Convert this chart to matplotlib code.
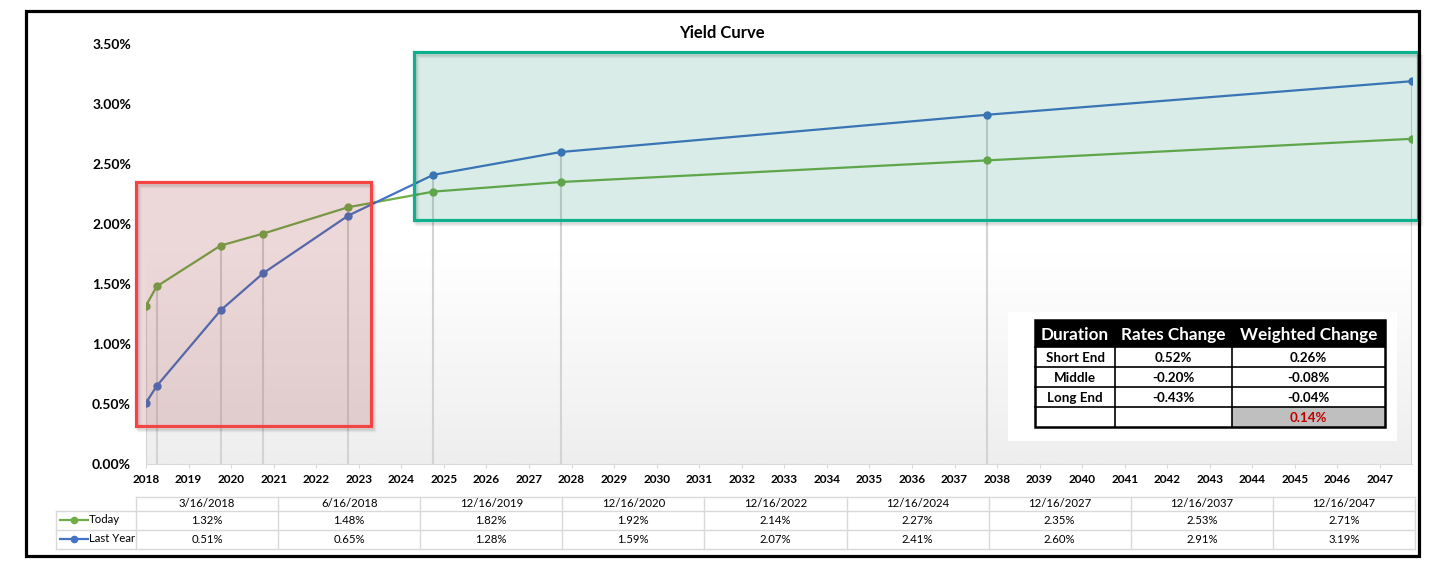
import numpy as np
import pandas as pd
import matplotlib
matplotlib.use('Agg')
import matplotlib.pyplot as plt
import matplotlib.dates as mdates
import matplotlib.transforms as mtransforms
from matplotlib.patches import Rectangle
from matplotlib.colors import LinearSegmentedColormap

# Data
dates = ['3/16/2018', '6/16/2018', '12/16/2019', '12/16/2020', '12/16/2022',
         '12/16/2024', '12/16/2027', '12/16/2037', '12/16/2047']
today = [1.32, 1.48, 1.82, 1.92, 2.14, 2.27, 2.35, 2.53, 2.71]
last_year = [0.51, 0.65, 1.28, 1.59, 2.07, 2.41, 2.60, 2.91, 3.19]
y_ticks = [0.0, 0.5, 1.0, 1.5, 2.0, 2.5, 3.0, 3.5]

summary_header = ['Duration', 'Rates Change', 'Weighted Change']
summary_rows = [['Short End', '0.52%', '0.26%'],
                ['Middle', '-0.20%', '-0.08%'],
                ['Long End', '-0.43%', '-0.04%'],
                ['', '', '0.14%']]

GREEN = '#70ad47'
BLUE = '#4472c4'
FONT = 'Lato'

W, H = 1433, 572


def fig_box(x0, y0, x1, y1):
    # pixel box (top-left origin) -> figure fraction rect
    return [x0 / W, 1 - y1 / H, (x1 - x0) / W, (y1 - y0) / H]


def main():
    plt.rcParams['font.family'] = [FONT, 'DejaVu Sans']
    x = mdates.date2num(pd.to_datetime(dates, format='%m/%d/%Y'))
    today_v = np.array(today) / 100
    last_v = np.array(last_year) / 100

    fig = plt.figure(figsize=(W / 100, H / 100), dpi=100)

    ax = fig.add_axes(fig_box(146, 44, 1412, 464))

    # plot area gradient (white at top, light grey at bottom)
    cmap = LinearSegmentedColormap.from_list('bg', ['#ffffff', '#ffffff', '#eeeeee'])
    grad = np.linspace(0, 1, 256).reshape(-1, 1)
    ax.imshow(grad, extent=[x[0], x[-1], 0, 0.035], aspect='auto', cmap=cmap,
              origin='upper', zorder=0)
    ax.set_xlim(x[0], x[-1])
    ax.set_ylim(0, 0.035)

    # drop lines
    ax.vlines(x, 0, np.maximum(today_v, last_v), color='#d3d3d3', lw=1.5, zorder=1)

    ax.plot(x, today_v, color=GREEN, lw=1.6, marker='o', ms=5, zorder=2, label='Today')
    ax.plot(x, last_v, color=BLUE, lw=1.6, marker='o', ms=5, zorder=2, label='Last Year')

    # highlight boxes with a soft shadow
    shadow_trs = [mtransforms.offset_copy(ax.transData, fig=fig, x=d, y=-d - 1, units='dots')
                  for d in (1, 2, 3)]

    def box(d0, d1, y0, y1, edge, face, alpha):
        xa = mdates.date2num(pd.Timestamp(d0))
        xb = mdates.date2num(pd.Timestamp(d1))
        for tr in shadow_trs:
            ax.add_patch(Rectangle((xa, y0), xb - xa, y1 - y0, facecolor='none',
                                   edgecolor='black', alpha=0.05, lw=2.5, zorder=3,
                                   clip_on=False, transform=tr))
        ax.add_patch(Rectangle((xa, y0), xb - xa, y1 - y0, facecolor=face, alpha=alpha,
                               edgecolor='none', zorder=3, clip_on=False))
        ax.add_patch(Rectangle((xa, y0), xb - xa, y1 - y0, facecolor='none',
                               edgecolor=edge, lw=2.3, zorder=4, clip_on=False))

    box('2017-12-20', '2023-06-29', 0.0032, 0.0235, '#f44444', (0.63, 0.24, 0.24), 0.2)
    box('2024-07-02', '2048-02-06', 0.0203, 0.0343, '#0fb08e', (0.0, 0.5, 0.38), 0.15)

    # axes styling
    for s in ['top', 'right', 'left']:
        ax.spines[s].set_visible(False)
    ax.spines['bottom'].set_color('#d9d9d9')
    ax.spines['bottom'].set_zorder(1)
    ticks = pd.date_range(start=pd.to_datetime(dates[0]), periods=30, freq=pd.DateOffset(years=1))
    ax.set_xticks(mdates.date2num(ticks))
    ax.set_xticklabels([t.strftime('%Y') for t in ticks], fontsize=8.5, fontweight='bold')
    ax.tick_params(axis='x', length=3, color='#d9d9d9', pad=4)
    ax.set_yticks(np.array(y_ticks) / 100)
    ax.set_yticklabels(['%.2f%%' % v for v in y_ticks], fontsize=10, fontweight='bold')
    ax.tick_params(axis='y', length=0, pad=10.8)

    fig.text(722 / W, 1 - 33 / H, 'Yield Curve', ha='center', va='center',
             fontsize=12, fontweight='bold')

    # summary inset
    ins = fig.add_axes(fig_box(1008, 312, 1397, 441))
    ins.set_xlim(1008, 1397)
    ins.set_ylim(441, 312)
    ins.axis('off')
    ins.add_patch(Rectangle((1008, 312), 389, 129, facecolor='white', edgecolor='none'))
    cols = [1035, 1115, 1232, 1385]
    rows = [320, 347, 367, 387, 407, 427]
    ins.add_patch(Rectangle((cols[0], rows[0]), cols[-1] - cols[0], rows[1] - rows[0],
                            facecolor='black', edgecolor='none'))
    ins.add_patch(Rectangle((cols[2], rows[4]), cols[3] - cols[2], rows[5] - rows[4],
                            facecolor='#bfbfbf', edgecolor='none'))
    for r in rows[1:-1]:
        ins.plot([cols[0], cols[-1]], [r, r], color='black', lw=1.2)
    for c in cols[1:-1]:
        ins.plot([c, c], [rows[1], rows[-1]], color='black', lw=1.2)
    ins.add_patch(Rectangle((cols[0], rows[0]), cols[-1] - cols[0], rows[-1] - rows[0],
                            facecolor='none', edgecolor='black', lw=1.8))
    for j, h in enumerate(summary_header):
        ins.text((cols[j] + cols[j + 1]) / 2, (rows[0] + rows[1]) / 2 + 1, h, color='white',
                 ha='center', va='center', fontsize=12.3, fontweight='bold')
    for i, row in enumerate(summary_rows):
        for j, val in enumerate(row):
            color = '#c00000' if i == 3 else 'black'
            ins.text((cols[j] + cols[j + 1]) / 2, (rows[i + 1] + rows[i + 2]) / 2 + 1, val,
                     color=color, ha='center', va='center', fontsize=9.6, fontweight='bold')

    # data table under the chart
    tb = fig.add_axes(fig_box(50, 494, 1420, 552))
    tb.set_xlim(50, 1420)
    tb.set_ylim(552, 494)
    tb.axis('off')
    grid = '#d9d9d9'
    col_x = np.linspace(136, 1415, len(dates) + 1)
    row_y = [497, 511, 530, 549]
    tb.plot([136, 1415], [row_y[0], row_y[0]], color=grid, lw=1)
    for r in row_y[1:]:
        tb.plot([56, 1415], [r, r], color=grid, lw=1)
    tb.plot([56, 56], [row_y[1], row_y[3]], color=grid, lw=1)
    for c in col_x:
        tb.plot([c, c], [row_y[0], row_y[3]], color=grid, lw=1)
    for j, d in enumerate(dates):
        cx = (col_x[j] + col_x[j + 1]) / 2
        tb.text(cx, (row_y[0] + row_y[1]) / 2, d, ha='center', va='center', fontsize=8.2)
        tb.text(cx, (row_y[1] + row_y[2]) / 2, '%.2f%%' % today[j], ha='center',
                va='center', fontsize=8.2)
        tb.text(cx, (row_y[2] + row_y[3]) / 2, '%.2f%%' % last_year[j], ha='center',
                va='center', fontsize=8.2)
    for k, (name, color) in enumerate([('Today', GREEN), ('Last Year', BLUE)]):
        cy = (row_y[k + 1] + row_y[k + 2]) / 2
        tb.plot([60, 88], [cy, cy], color=color, lw=1.6)
        tb.plot([74], [cy], marker='o', ms=4.5, color=color)
        tb.text(89, cy - 1, name, ha='left', va='center', fontsize=8.2)

    # outer chart border
    fig.patches.append(Rectangle((26 / W, 1 - 556 / H), (1419 - 26) / W, (556 - 11) / H,
                                 transform=fig.transFigure, facecolor='none',
                                 edgecolor='black', lw=2.3, zorder=10))

    fig.savefig('out.png', dpi=100)


if __name__ == '__main__':
    main()
